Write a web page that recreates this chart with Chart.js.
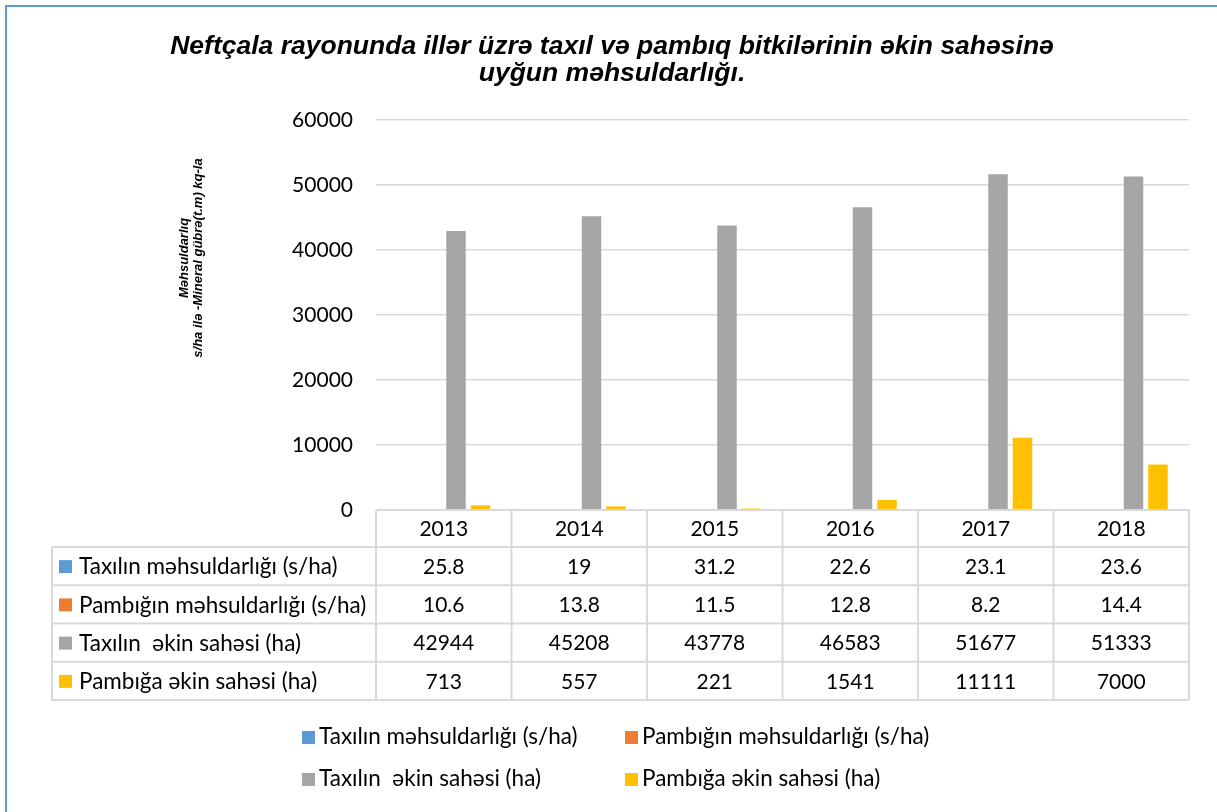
<!DOCTYPE html>
<html>
<head>
<meta charset="utf-8">
<script src="https://cdn.jsdelivr.net/npm/chart.js@4.4.1/dist/chart.umd.min.js"></script>
<style>
  html, body { margin: 0; padding: 0; background: #ffffff; }
  #wrap { width: 1217px; height: 812px; position: relative; }
  canvas { display: block; background: #ffffff; }
</style>
</head>
<body>
<div id="wrap"><canvas id="c" width="1217" height="812"></canvas></div>
<script>
// ---- data ----
const years = ['2013', '2014', '2015', '2016', '2017', '2018'];
const grainYield = [25.8, 19, 31.2, 22.6, 23.1, 23.6];
const cottonYield = [10.6, 13.8, 11.5, 12.8, 8.2, 14.4];
const grainArea = [42944, 45208, 43778, 46583, 51677, 51333];
const cottonArea = [713, 557, 221, 1541, 11111, 7000];
const seriesLabels = [
  'Taxılın məhsuldarlığı (s/ha)',
  'Pambığın məhsuldarlığı (s/ha)',
  'Taxılın  əkin sahəsi (ha)',
  'Pambığa əkin sahəsi (ha)'
];
const seriesColors = ['#5B9BD5', '#ED7D31', '#A5A5A5', '#FFC000'];
const yTicks = [0, 10000, 20000, 30000, 40000, 50000, 60000];
const titleLines = ['Neftçala rayonunda illər üzrə taxıl və pambıq bitkilərinin əkin sahəsinə', 'uyğun məhsuldarlığı.'];
const yTitleLines = ['Məhsuldarlıq', 's/ha ilə -Mineral gübrə(t.m) kq-la'];

const FONT = 'Lato, "Open Sans", sans-serif';
const GRID = '#D9D9D9';

const tablePlugin = {
  id: 'tableLegend',
  afterDraw(chart) {
    const ctx = chart.ctx;
    const xs = chart.scales.x;
    const area = chart.chartArea;
    const colW = (area.right - area.left) / years.length;
    const top = area.bottom;
    const headerH = 37;
    const rowH = 38.25;
    const labelLeft = 52;
    const datasets = chart.data.datasets;

    ctx.save();
    // outer frame
    ctx.strokeStyle = '#5B9BD5';
    ctx.lineWidth = 2;
    ctx.strokeRect(6, 6, 1240, 840);

    // y axis title (rotated)
    ctx.save();
    ctx.translate(191, 258);
    ctx.rotate(-Math.PI / 2);
    ctx.fillStyle = '#000';
    ctx.font = 'italic bold 13px "Liberation Sans", Arial, sans-serif';
    ctx.textAlign = 'center';
    ctx.textBaseline = 'middle';
    ctx.fillText(yTitleLines[0], 0, -7);
    ctx.fillText(yTitleLines[1], 0, 7);
    ctx.restore();

    // table grid
    ctx.strokeStyle = GRID;
    ctx.lineWidth = 2;
    ctx.beginPath();
    ctx.moveTo(area.left, top); ctx.lineTo(area.right, top);
    const bottom = top + headerH + rowH * datasets.length;
    for (let i = 0; i <= years.length; i++) {
      const x = area.left + i * colW;
      ctx.moveTo(x, top); ctx.lineTo(x, bottom);
    }
    for (let r = 0; r <= datasets.length; r++) {
      const y = top + headerH + r * rowH;
      ctx.moveTo(labelLeft, y); ctx.lineTo(area.right, y);
    }
    ctx.moveTo(labelLeft, top + headerH); ctx.lineTo(labelLeft, bottom);
    ctx.stroke();

    // header text
    ctx.fillStyle = '#000';
    ctx.font = '21px ' + FONT;
    ctx.textAlign = 'center';
    ctx.textBaseline = 'middle';
    years.forEach((yr, i) => {
      ctx.fillText(yr, xs.getPixelForValue(i), top + headerH / 2 + 1);
    });
    // rows
    datasets.forEach((ds, r) => {
      const yc = top + headerH + r * rowH + rowH / 2 + 1;
      ctx.font = '21px ' + FONT;
      ds.data.forEach((v, i) => {
        ctx.textAlign = 'center';
        ctx.fillText(String(v), xs.getPixelForValue(i), yc);
      });
      ctx.fillStyle = ds.backgroundColor;
      ctx.fillRect(59, yc - 7, 13, 13);
      ctx.fillStyle = '#000';
      ctx.textAlign = 'left';
      ctx.font = '22.5px ' + FONT;
      ctx.fillText(ds.label, 79, yc);
    });

    // legend (2 x 2)
    const legX = [302, 625];
    const legY = [737, 779];
    ctx.font = '22.5px ' + FONT;
    datasets.forEach((ds, k) => {
      const x = legX[k % 2];
      const y = legY[Math.floor(k / 2)];
      ctx.fillStyle = ds.backgroundColor;
      ctx.fillRect(x, y - 6, 13, 13);
      ctx.fillStyle = '#000';
      ctx.textAlign = 'left';
      ctx.textBaseline = 'middle';
      ctx.fillText(ds.label, x + 17, y);
    });
    ctx.restore();
  }
};

const datasets = [grainYield, cottonYield, grainArea, cottonArea].map((d, i) => ({
  label: seriesLabels[i],
  data: d,
  backgroundColor: seriesColors[i],
  borderWidth: 0,
  categoryPercentage: 0.723,
  barPercentage: 0.796
}));

new Chart(document.getElementById('c'), {
  type: 'bar',
  data: { labels: years, datasets },
  plugins: [tablePlugin],
  options: {
    responsive: false,
    animation: false,
    layout: { padding: { left: 7, right: 0, top: 0, bottom: 302 } },
    plugins: {
      legend: { display: false },
      tooltip: { enabled: false },
      title: {
        display: true,
        text: titleLines,
        color: '#000',
        font: { family: '"Liberation Sans", Arial, sans-serif', size: 26.5, weight: 'bold', style: 'italic', lineHeight: 1.02 },
        padding: { top: 33, bottom: 33 }
      }
    },
    scales: {
      x: {
        display: false
      },
      y: {
        min: 0,
        max: 60000,
        afterBuildTicks(scale) { scale.ticks = yTicks.map(v => ({ value: v })); },
        afterFit(scale) { scale.width = 369; },
        border: { display: false },
        grid: { color: GRID, lineWidth: 1.5, drawTicks: false },
        ticks: {
          color: '#000',
          padding: 23,
          font: { family: FONT, size: 21 },
          callback: v => String(v)
        }
      },
      yRight: {
        position: 'right',
        display: true,
        min: 0,
        max: 60000,
        afterFit(scale) { scale.width = 28; },
        border: { display: false },
        grid: { display: false, drawOnChartArea: false },
        ticks: { display: false }
      }
    }
  }
});
</script>
</body>
</html>
